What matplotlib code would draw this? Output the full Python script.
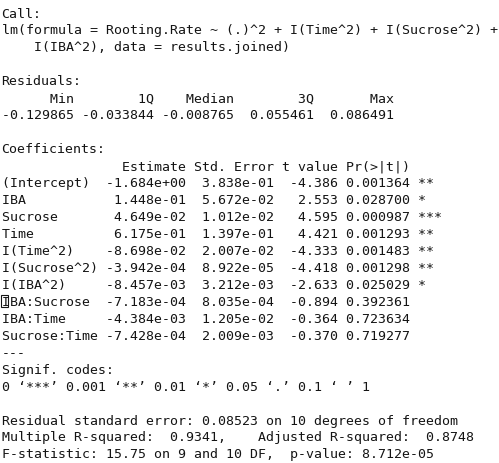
import matplotlib
matplotlib.use("Agg")
import matplotlib.pyplot as plt
from matplotlib.patches import Rectangle

# R summary(lm) output, values as printed
formula_lines = ["lm(formula = Rooting.Rate ~ (.)^2 + I(Time^2) + I(Sucrose^2) +",
                 "    I(IBA^2), data = results.joined)"]

resid_labels = ["Min", "1Q", "Median", "3Q", "Max"]
resid_values = [-0.129865, -0.033844, -0.008765, 0.055461, 0.086491]

coef_names = ["(Intercept)", "IBA", "Sucrose", "Time", "I(Time^2)", "I(Sucrose^2)",
              "I(IBA^2)", "IBA:Sucrose", "IBA:Time", "Sucrose:Time"]
estimates = [-1.684e+00, 1.448e-01, 4.649e-02, 6.175e-01, -8.698e-02, -3.942e-04,
             -8.457e-03, -7.183e-04, -4.384e-03, -7.428e-04]
std_errors = [3.838e-01, 5.672e-02, 1.012e-02, 1.397e-01, 2.007e-02, 8.922e-05,
              3.212e-03, 8.035e-04, 1.205e-02, 2.009e-03]
t_values = [-4.386, 2.553, 4.595, 4.421, -4.333, -4.418, -2.633, -0.894, -0.364, -0.370]
p_values = [0.001364, 0.028700, 0.000987, 0.001293, 0.001483, 0.001298,
            0.025029, 0.392361, 0.723634, 0.719277]
stars = ["**", "*", "***", "**", "**", "**", "*", "", "", ""]

rse = 0.08523
df_resid = 10
r2 = 0.9341
adj_r2 = 0.8748
fstat = 15.75
df_num = 9
p_overall = "8.712e-05"

# build the text lines
lines = ["Call:"] + formula_lines + ["", "Residuals:"]
lines.append(" ".join("{:>9}".format(s) for s in resid_labels))
lines.append(" ".join("{:>9.6f}".format(v) for v in resid_values))
lines += ["", "Coefficients:"]
lines.append("{:<12} {:>10} {:>10} {:>7} {:>8}".format("", "Estimate", "Std. Error", "t value", "Pr(>|t|)"))
for n, e, s, t, p, st in zip(coef_names, estimates, std_errors, t_values, p_values, stars):
    lines.append("{:<12} {:>10.3e} {:>10.3e} {:>7.3f} {:>8.6f} {}".format(n, e, s, t, p, st).rstrip())
lines += ["---", "Signif. codes:",
          "0 \u2018***\u2019 0.001 \u2018**\u2019 0.01 \u2018*\u2019 0.05 \u2018.\u2019 0.1 \u2018 \u2019 1",
          "",
          "Residual standard error: {} on {} degrees of freedom".format(rse, df_resid),
          "Multiple R-squared:  {},    Adjusted R-squared:  {}".format(r2, adj_r2),
          "F-statistic: {} on {} and {} DF,  p-value: {}".format(fstat, df_num, df_resid, p_overall)]

W, H = 499, 464
fig = plt.figure(figsize=(W / 100, H / 100), dpi=100)
fig.patch.set_facecolor("white")

x0 = 1.5          # px from left
base0 = 17.5      # baseline of first line, px from top
step = 16.96      # line height px
fsize = 9.56

for i, line in enumerate(lines):
    y = H - (base0 + i * step)
    fig.text(x0 / W, y / H, line, family="DejaVu Sans Mono", fontsize=fsize,
             color="#141414", va="baseline", ha="left")

# little cursor box around the I of IBA:Sucrose
row = lines.index(next(l for l in lines if l.startswith("IBA:Sucrose")))
yb = H - (base0 + row * step)
fig.patches.append(Rectangle((1.0 / W, (yb - 2.5) / H), 7.0 / W, 12.5 / H,
                             transform=fig.transFigure, fill=False,
                             edgecolor="#141414", linewidth=0.8))

fig.savefig("out.png", dpi=100, facecolor="white")
